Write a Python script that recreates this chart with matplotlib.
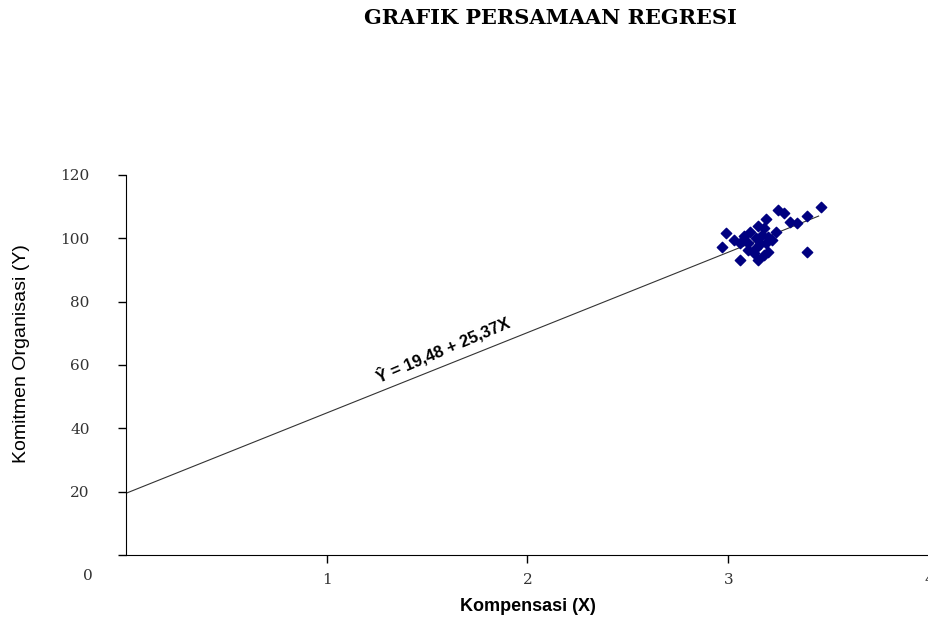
import numpy as np
import matplotlib.pyplot as plt

# Observed data: Kompensasi (X) vs Komitmen Organisasi (Y)
kompensasi = [3.46, 3.25, 3.28, 3.39, 3.34, 3.31, 3.19, 3.15, 3.18, 2.99,
              3.24, 3.20, 3.22, 3.06, 3.10, 3.14, 3.14, 2.97, 3.39, 3.20,
              3.06, 3.15, 3.11, 3.16, 3.13, 3.18, 3.10, 3.08, 3.03, 3.19, 3.17]
komitmen = [109.9, 108.9, 108.0, 107.0, 104.8, 105.1, 106.1, 103.9, 103.3, 101.7,
            102.0, 100.4, 99.5, 98.5, 98.5, 100.1, 96.9, 97.3, 95.7, 95.7,
            93.1, 93.1, 102.0, 98.2, 95.4, 94.7, 96.3, 100.7, 99.5, 98.5, 101.0]

# Regression equation Y = a + bX
a = 19.48
b = 25.37
x_line = np.array([0.0, 3.45])

fig = plt.figure(figsize=(9.29, 6.19), dpi=100)
ax = fig.add_axes([0.1356, 0.1034, 0.8644, 0.614])

ax.plot(x_line, a + b * x_line, color="#333333", linewidth=0.8, zorder=2)
ax.scatter(kompensasi, komitmen, marker="D", s=28, color="#000080",
           edgecolors="#000080", zorder=3)

ax.set_xlim(0, 4)
ax.set_ylim(0, 120)
ax.set_xticks([1, 2, 3, 4])
ax.set_yticks([0, 20, 40, 60, 80, 100, 120])
ax.set_yticklabels(["", "20", "40", "60", "80", "100", "120"])
ax.spines["top"].set_visible(False)
ax.spines["right"].set_visible(False)
ax.tick_params(axis="both", direction="out", length=6, width=1, colors="black",
               labelcolor="#333333", labelsize=11)
ax.tick_params(axis="y", pad=20)
ax.tick_params(axis="x", pad=7)
for lbl in ax.get_xticklabels() + ax.get_yticklabels():
    lbl.set_family("DejaVu Serif")
ax.text(-0.19, -6.5, "0", fontsize=11, family="DejaVu Serif", color="#333333",
        ha="center", va="center", clip_on=False)

ax.text(1.58, 65, "Ŷ = 19,48 + 25,37X", rotation=23, fontsize=12,
        fontweight="bold", family=["Liberation Sans", "DejaVu Sans"],
        ha="center", va="center", rotation_mode="anchor")

ax.set_xlabel("Kompensasi (X)", fontsize=13, fontweight="bold",
              family="Liberation Sans", labelpad=8)
ax.set_ylabel("Komitmen Organisasi (Y)", fontsize=14, family="Liberation Sans",
              color="black")
ax.yaxis.set_label_coords(-0.12, 0.529)

fig.text(0.592, 0.971, "GRAFIK PERSAMAAN REGRESI", fontsize=15, fontweight="bold",
         family="DejaVu Serif", ha="center", va="center")

fig.savefig("out.png", dpi=100)
